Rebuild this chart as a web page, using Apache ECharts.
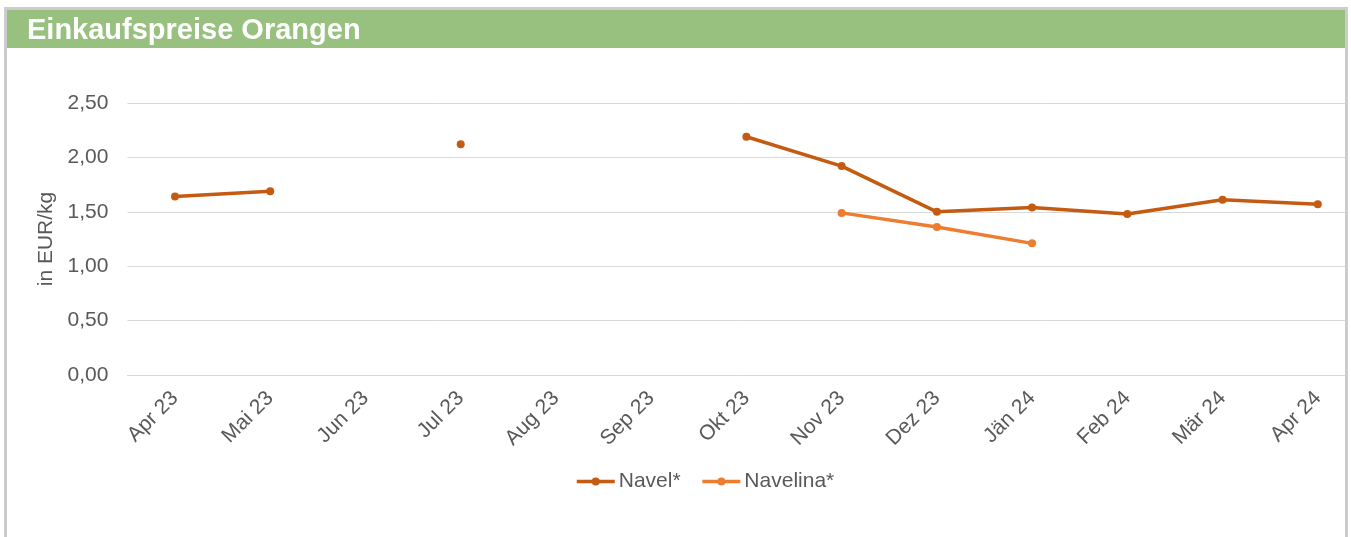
<!DOCTYPE html>
<html>
<head>
<meta charset="utf-8">
<title>Einkaufspreise Orangen</title>
<script src="https://cdn.jsdelivr.net/npm/echarts@6/dist/echarts.min.js"></script>
<style>
  html, body { margin: 0; padding: 0; background: #fff; }
  #main { width: 1351px; height: 537px; }
</style>
</head>
<body>
<div id="main"></div>
<script type="text/javascript">
// Monate
var months = ['Apr 23', 'Mai 23', 'Jun 23', 'Jul 23', 'Aug 23', 'Sep 23', 'Okt 23',
              'Nov 23', 'Dez 23', 'Jän 24', 'Feb 24', 'Mär 24', 'Apr 24'];
// Preise in EUR/kg, null = kein Wert
var navel    = [1.64, 1.69, null, 2.12, null, null, 2.19, 1.92, 1.50, 1.54, 1.48, 1.61, 1.57];
var navelina = [null, null, null, null, null, null, null, 1.49, 1.36, 1.21, null, null, null];
var yTicks = [0, 0.5, 1, 1.5, 2, 2.5];

var font = '"Liberation Sans", Arial, sans-serif';
var myChart = echarts.init(document.getElementById('main'));

function fmt(v) {
  return v.toFixed(2).replace('.', ',');
}

var option = {
  animation: false,
  textStyle: { fontFamily: font },
  graphic: [
    // Rahmen
    { type: 'rect', z: 100, shape: { x: 5.5, y: 8.5, width: 1341, height: 540 },
      style: { fill: 'none', stroke: '#cccccc', lineWidth: 3 } },
    { type: 'rect', z: 99, shape: { x: 1348, y: 0, width: 10, height: 537 },
      style: { fill: '#ffffff' } },
    // Kopfzeile
    { type: 'rect', z: 99, shape: { x: 7, y: 10, width: 1338, height: 38 },
      style: { fill: '#98c17f' } },
    { type: 'text', z: 101, left: 27, top: 16,
      style: { text: 'Einkaufspreise Orangen', fill: '#ffffff',
               font: 'bold 29px ' + font } }
  ],
  grid: {
    left: 127.4,
    width: 1238,
    top: 103,
    bottom: 162,
    containLabel: false,
    outerBoundsMode: 'none'
  },
  legend: {
    top: 466,
    left: 570,
    itemWidth: 38,
    itemHeight: 10,
    itemGap: 20,
    lineStyle: { width: 3.5 },
    textStyle: { color: '#595959', fontSize: 21, fontFamily: font, padding: [0, 0, 0, -1] },
    data: ['Navel*', 'Navelina*']
  },
  xAxis: {
    type: 'category',
    data: months,
    boundaryGap: true,
    axisLine: { show: true, lineStyle: { color: '#d9d9d9' } },
    axisTick: { show: false },
    axisLabel: {
      rotate: 45,
      interval: 0,
      margin: 20,
      color: '#595959',
      fontSize: 21,
      fontFamily: font
    }
  },
  yAxis: {
    type: 'value',
    min: 0,
    max: 2.5,
    interval: 0.5,
    name: 'in EUR/kg',
    nameLocation: 'middle',
    nameGap: 58,
    nameTextStyle: { color: '#595959', fontSize: 21, fontFamily: font },
    axisLine: { show: false },
    axisTick: { show: false },
    axisLabel: {
      color: '#595959',
      fontSize: 21,
      margin: 19,
      fontFamily: font,
      formatter: function (v) {
        return yTicks.indexOf(v) >= 0 ? fmt(v) : '';
      }
    },
    splitLine: { lineStyle: { color: '#d9d9d9', width: 1 } }
  },
  series: [
    {
      name: 'Navel*',
      type: 'line',
      data: navel,
      connectNulls: false,
      symbol: 'circle',
      symbolSize: 8,
      showAllSymbol: true,
      lineStyle: { color: '#c55a11', width: 3.5 },
      itemStyle: { color: '#c55a11' }
    },
    {
      name: 'Navelina*',
      type: 'line',
      data: navelina,
      connectNulls: false,
      symbol: 'circle',
      symbolSize: 8,
      showAllSymbol: true,
      lineStyle: { color: '#ed7d31', width: 3.5 },
      itemStyle: { color: '#ed7d31' }
    }
  ]
};
myChart.setOption(option);
</script>
</body>
</html>
